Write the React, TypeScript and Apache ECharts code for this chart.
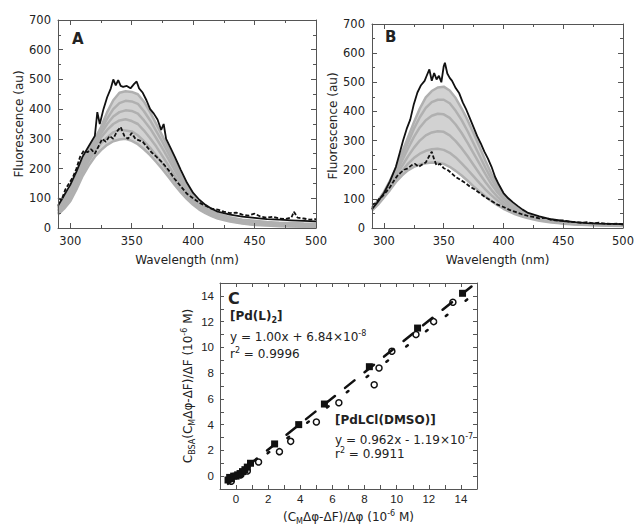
import { useEffect, useRef } from "react";
import * as echarts from "echarts";

// ---------- Panel A & B: shared wavelength grid for the gray titration spectra ----------
const grayWl = [290, 295, 300, 305, 310, 315, 320, 325, 330, 335, 340, 345, 350, 355, 360, 365, 370, 375, 380, 385, 390, 395, 400, 405, 410, 415, 420, 430, 440, 450, 460, 470, 480, 490, 500];

const aGray1 = [45, 65, 90, 130, 175, 210, 240, 262, 280, 292, 298, 300, 293, 282, 265, 245, 222, 198, 172, 145, 120, 97, 78, 62, 50, 40, 32, 22, 15, 10, 8, 6, 5, 4, 3];
const aGray2 = [50, 72, 100, 142, 188, 225, 258, 285, 305, 322, 330, 328, 325, 312, 292, 270, 244, 216, 188, 158, 130, 105, 84, 66, 53, 43, 35, 24, 17, 12, 10, 8, 7, 6, 5];
const aGray3 = [55, 80, 108, 150, 198, 238, 272, 305, 330, 350, 362, 366, 360, 350, 328, 302, 274, 242, 210, 177, 145, 116, 92, 72, 58, 47, 38, 27, 19, 14, 12, 10, 9, 8, 7];
const aGray4 = [60, 86, 115, 158, 205, 245, 282, 318, 350, 375, 390, 396, 394, 385, 362, 335, 302, 268, 232, 195, 158, 125, 98, 77, 62, 50, 41, 30, 22, 17, 14, 12, 11, 10, 9];
const aGray5 = [65, 93, 122, 166, 215, 253, 290, 330, 368, 400, 420, 428, 426, 418, 393, 362, 326, 290, 250, 210, 170, 133, 104, 81, 66, 54, 44, 33, 25, 20, 17, 15, 14, 12, 11];
const aGray6 = [70, 100, 130, 175, 225, 262, 300, 340, 390, 430, 455, 460, 458, 450, 425, 390, 350, 310, 268, 225, 180, 140, 108, 85, 70, 58, 48, 36, 28, 24, 20, 18, 17, 15, 14];

const aSolidWl = [290, 295, 300, 305, 310, 315, 320, 322, 324, 327, 330, 333, 335, 337, 339, 341, 343, 346, 349, 352, 354, 356, 359, 362, 365, 368, 371, 374, 376, 378, 381, 385, 390, 395, 400, 405, 410, 415, 420, 430, 440, 450, 460, 470, 480, 490, 500];
const aSolidVal = [75, 110, 145, 190, 240, 275, 310, 390, 350, 400, 440, 470, 500, 480, 498, 478, 475, 478, 470, 485, 493, 470, 455, 430, 400, 385, 365, 330, 350, 300, 275, 240, 195, 152, 118, 95, 78, 65, 55, 45, 38, 34, 30, 28, 26, 24, 22];

const aDashWl = [290, 293, 296, 299, 302, 305, 308, 311, 314, 317, 320, 323, 326, 329, 332, 335, 338, 341, 344, 347, 350, 353, 356, 359, 362, 366, 370, 375, 380, 385, 390, 395, 400, 405, 410, 415, 420, 425, 430, 435, 440, 445, 450, 455, 460, 465, 470, 475, 480, 482, 485, 490, 495, 500];
const aDashVal = [100, 95, 130, 150, 170, 200, 240, 260, 255, 265, 250, 275, 300, 290, 310, 300, 325, 340, 310, 300, 320, 300, 295, 290, 275, 255, 240, 220, 195, 165, 140, 115, 100, 85, 75, 65, 62, 55, 50, 52, 45, 42, 48, 38, 35, 38, 32, 30, 35, 55, 35, 32, 28, 30];

const bGray1 = [60, 80, 105, 130, 158, 180, 198, 210, 218, 222, 225, 224, 220, 210, 196, 180, 162, 143, 125, 108, 92, 78, 66, 56, 47, 40, 34, 25, 19, 15, 12, 10, 9, 8, 7];
const bGray2 = [62, 83, 108, 135, 166, 195, 220, 240, 255, 265, 270, 272, 268, 258, 242, 222, 200, 177, 154, 132, 112, 94, 78, 65, 54, 45, 38, 28, 21, 16, 13, 11, 10, 9, 8];
const bGray3 = [64, 86, 112, 142, 176, 212, 245, 275, 300, 318, 328, 332, 330, 318, 298, 274, 246, 216, 186, 157, 130, 107, 88, 72, 59, 49, 41, 30, 22, 17, 14, 12, 11, 10, 9];
const bGray4 = [66, 89, 116, 150, 188, 230, 272, 312, 345, 370, 385, 392, 390, 378, 355, 326, 292, 256, 220, 184, 150, 122, 99, 80, 65, 53, 44, 32, 24, 18, 15, 13, 12, 11, 10];
const bGray5 = [68, 92, 120, 156, 198, 245, 292, 340, 380, 412, 432, 440, 440, 428, 402, 370, 332, 290, 248, 206, 167, 134, 107, 86, 69, 56, 46, 33, 25, 19, 16, 14, 13, 12, 11];
const bGray6 = [70, 94, 124, 162, 206, 258, 310, 362, 410, 448, 470, 482, 485, 472, 446, 410, 370, 325, 278, 230, 185, 146, 115, 91, 73, 59, 48, 35, 26, 20, 17, 15, 14, 13, 12];

const bSolidWl = [290, 295, 300, 305, 310, 313, 316, 319, 322, 325, 328, 331, 334, 336, 338, 340, 342, 344, 346, 348, 350, 351, 353, 355, 357, 360, 363, 366, 369, 372, 375, 378, 381, 384, 387, 390, 393, 396, 400, 404, 408, 412, 416, 420, 430, 440, 450, 460, 470, 480, 490, 500];
const bSolidVal = [65, 90, 120, 160, 210, 255, 300, 340, 372, 425, 465, 490, 505, 525, 544, 505, 532, 510, 522, 500, 555, 567, 530, 515, 505, 480, 462, 430, 405, 375, 345, 315, 290, 262, 238, 210, 175, 150, 120, 102, 88, 75, 63, 53, 40, 30, 24, 20, 17, 15, 14, 13];

const bDashWl = [290, 293, 296, 299, 302, 305, 308, 311, 314, 317, 320, 323, 326, 329, 332, 335, 338, 340, 342, 344, 347, 350, 353, 356, 360, 364, 368, 372, 376, 380, 385, 390, 395, 400, 405, 410, 415, 420, 425, 430, 435, 440, 445, 450, 455, 460, 465, 470, 475, 480, 485, 490, 495, 500];
const bDashVal = [80, 85, 100, 110, 125, 140, 160, 178, 190, 200, 205, 215, 220, 210, 218, 225, 248, 262, 235, 215, 220, 205, 200, 190, 175, 165, 155, 142, 132, 120, 105, 93, 80, 72, 62, 55, 48, 42, 38, 33, 35, 28, 25, 26, 22, 20, 18, 20, 16, 18, 15, 14, 15, 12];

// ---------- Panel C ----------
const cSquareX = [-0.5, -0.4, -0.3, -0.15, 0, 0.1, 0.25, 0.4, 0.55, 0.7, 0.9, 2.4, 3.9, 5.5, 8.3, 11.3, 14.1];
const cSquareY = [-0.3, -0.1, -0.2, 0, 0, 0.1, 0.2, 0.35, 0.5, 0.7, 1.0, 2.5, 4.0, 5.6, 8.5, 11.5, 14.2];
const cCircleX = [-0.3, 0.3, 0.7, 1.4, 2.7, 3.4, 5.0, 6.4, 8.6, 8.9, 9.7, 11.2, 12.3, 13.5];
const cCircleY = [-0.4, 0.1, 0.4, 1.1, 1.9, 2.7, 4.2, 5.7, 7.1, 8.4, 9.7, 11.0, 12.0, 13.5];
const fitSlope = [1.0, 0.962];
const fitIntercept = [0.0684, -0.119];
const fitXRange = [-0.5, 15];

const FONT = "DejaVu Sans";
const TXT = "#222";
const AXC = "#555";

const pairs = (xs: number[], ys: number[]) => xs.map((x, i) => [x, ys[i]]);

const richStyles = (size: number, bold = false) => ({
  n: { fontFamily: FONT, fontSize: size, fontWeight: bold ? "bold" : "normal", color: TXT, fill: TXT, lineHeight: 16, verticalAlign: "middle" },
  s: { fontFamily: FONT, fontSize: 8, fontWeight: bold ? "bold" : "normal", color: TXT, fill: TXT, lineHeight: 8, verticalAlign: "bottom" },
  p: { fontFamily: FONT, fontSize: 8, fontWeight: bold ? "bold" : "normal", color: TXT, fill: TXT, lineHeight: 8, verticalAlign: "top" },
});

function mkAxis(kind: "x" | "y", gi: number, pos: string, min: number, max: number, opt: any) {
  const labelled = pos === "bottom" || pos === "left";
  const a: any = {
    type: "value",
    gridIndex: gi,
    position: pos,
    min,
    max,
    z: 10,
    axisLine: { show: true, onZero: false, lineStyle: { color: AXC, width: 1 } },
    axisTick: { show: true, inside: true, length: opt.tickLen ?? 5, lineStyle: { color: AXC } },
    minorTick: { show: !!opt.minor, splitNumber: 2, length: 3, lineStyle: { color: AXC } },
    splitLine: { show: false },
    minorSplitLine: { show: false },
    axisLabel: labelled
      ? { show: true, color: TXT, fontFamily: opt.labelFont ?? FONT, fontSize: opt.labelSize ?? 11.5, margin: opt.margin ?? 7, showMinLabel: opt.showMin ?? true, showMaxLabel: true, formatter: opt.formatter }
      : { show: false },
  };
  if (opt.interval !== undefined) a.interval = opt.interval;
  if (opt.splitNumber !== undefined) a.splitNumber = opt.splitNumber;
  if (labelled && opt.name) {
    a.name = opt.name;
    a.nameLocation = "middle";
    a.nameGap = opt.nameGap;
    a.nameTextStyle = { color: TXT, fontFamily: FONT, fontSize: 12, rich: richStyles(12) };
  }
  return a;
}

export default function App() {
  const ref = useRef<HTMLDivElement>(null);
  useEffect(() => {
    document.body.style.margin = "0";
    if (!ref.current) return;
    const chart = echarts.init(ref.current, undefined, { renderer: "svg" });

    const grayLine = (name: string, xi: number, yi: number, vals: number[]) => ({
      name, type: "line", xAxisIndex: xi, yAxisIndex: yi, data: pairs(grayWl, vals), showSymbol: false, silent: true,
      lineStyle: { color: "#b0b0b0", width: 2.5 },
    });
    const bandArea = (name: string, xi: number, yi: number, vals: number[], color: string) => ({
      name, type: "line", xAxisIndex: xi, yAxisIndex: yi, data: pairs(grayWl, vals), showSymbol: false, silent: true,
      lineStyle: { width: 0, opacity: 0 }, areaStyle: { color, opacity: 1 },
    });

    const spectra = (xi: number, yi: number, g: number[][], sw: number[], sv: number[], dw: number[], dv: number[]) => [
      bandArea("bandTop" + xi, xi, yi, g[5], "#d2d2d2"),
      bandArea("bandBottom" + xi, xi, yi, g[0], "#ffffff"),
      ...g.map((v, i) => grayLine("g" + xi + "_" + i, xi, yi, v)),
      { name: "dash" + xi, type: "line", xAxisIndex: xi, yAxisIndex: yi, data: pairs(dw, dv), showSymbol: false, silent: true, lineStyle: { color: "#111", width: 1.8, type: [4, 2] } },
      { name: "solid" + xi, type: "line", xAxisIndex: xi, yAxisIndex: yi, data: pairs(sw, sv), showSymbol: false, silent: true, lineStyle: { color: "#111", width: 1.8 } },
    ];

    const fitLine = (k: number, dash: number[]) => ({
      name: "fit" + k, type: "line", xAxisIndex: 4, yAxisIndex: 4, showSymbol: false, silent: true,
      data: fitXRange.map((x) => [x, fitSlope[k] * x + fitIntercept[k]]),
      lineStyle: { color: "#111", width: 2.5, type: dash, cap: "round" },
    });

    const evenOnly = (v: number) => (Math.round(v) % 2 === 0 ? String(v) : "");

    const option: any = {
      animation: false,
      backgroundColor: "#fff",
      grid: [
        { left: 58, top: 20, width: 258, height: 208 },
        { left: 372, top: 24, width: 254, height: 204 },
        { left: 220, top: 283, width: 257, height: 206 },
      ],
      xAxis: [
        mkAxis("x", 0, "bottom", 290, 500, { minor: true, showMin: false, name: "Wavelength (nm)", nameGap: 26 }),
        mkAxis("x", 0, "top", 290, 500, { minor: true }),
        mkAxis("x", 1, "bottom", 290, 500, { minor: true, showMin: false, name: "Wavelength (nm)", nameGap: 26 }),
        mkAxis("x", 1, "top", 290, 500, { minor: true }),
        mkAxis("x", 2, "bottom", -1, 15, { interval: 1, tickLen: 4, formatter: evenOnly, labelFont: "Liberation Sans", labelSize: 11.5, margin: 4, name: "{n|(C}{s|M}{n|Δφ-ΔF)/Δφ (10}{p|-6}{n| M)}", nameGap: 20 }),
        mkAxis("x", 2, "top", -1, 15, { interval: 1, tickLen: 4 }),
      ],
      yAxis: [
        mkAxis("y", 0, "left", 0, 700, { interval: 100, minor: true, name: "Fluorescence (au)", nameGap: 33 }),
        mkAxis("y", 0, "right", 0, 700, { interval: 100, minor: true }),
        mkAxis("y", 1, "left", 0, 700, { interval: 100, minor: true, name: "Fluorescence (au)", nameGap: 32 }),
        mkAxis("y", 1, "right", 0, 700, { interval: 100, minor: true }),
        mkAxis("y", 2, "left", -1, 15, { interval: 1, tickLen: 4, formatter: evenOnly, labelFont: "Liberation Sans", labelSize: 11.5, margin: 6, name: "{n|C}{s|BSA}{n|(C}{s|M}{n|Δφ-ΔF)/ΔF (10}{p|-6}{n| M)}", nameGap: 24 }),
        mkAxis("y", 2, "right", -1, 15, { interval: 1, tickLen: 4 }),
      ],
      series: [
        ...spectra(0, 0, [aGray1, aGray2, aGray3, aGray4, aGray5, aGray6], aSolidWl, aSolidVal, aDashWl, aDashVal),
        ...spectra(2, 2, [bGray1, bGray2, bGray3, bGray4, bGray5, bGray6], bSolidWl, bSolidVal, bDashWl, bDashVal),
        fitLine(0, [12, 13]),
        fitLine(1, [2, 23]),
        {
          name: "[PdLCl(DMSO)]", type: "scatter", xAxisIndex: 4, yAxisIndex: 4, data: pairs(cCircleX, cCircleY),
          symbol: "circle", symbolSize: 6, itemStyle: { color: "#fff", borderColor: "#111", borderWidth: 1.5, opacity: 1 }, silent: true,
        },
        {
          name: "[Pd(L)2]", type: "scatter", xAxisIndex: 4, yAxisIndex: 4, data: pairs(cSquareX, cSquareY),
          symbol: "rect", symbolSize: 7, itemStyle: { color: "#111", opacity: 1 }, silent: true,
        },
      ],
      graphic: [
        { type: "text", left: 72, top: 31, style: { text: "A", font: `bold 15px "${FONT}"`, fill: TXT } },
        { type: "text", left: 385, top: 29, style: { text: "B", font: `bold 15px "${FONT}"`, fill: TXT } },
        { type: "text", left: 228, top: 290, style: { text: "C", font: `bold 16px "${FONT}"`, fill: TXT } },
        { type: "text", left: 230, top: 310, style: { text: "{n|[Pd(L)}{s|2}{n|]}", rich: richStyles(12, true), fill: TXT } },
        { type: "text", left: 230, top: 329, style: { text: "{n|y = 1.00x + 6.84×10}{p|-8}", rich: richStyles(12), fill: TXT } },
        { type: "text", left: 230, top: 346, style: { text: "{n|r}{p|2}{n| = 0.9996}", rich: richStyles(12), fill: TXT } },
        { type: "text", left: 335, top: 414, style: { text: "{n|[PdLCl(DMSO)]}", rich: richStyles(12, true), fill: TXT } },
        { type: "text", left: 335, top: 432, style: { text: "{n|y = 0.962x - 1.19×10}{p|-7}", rich: richStyles(12), fill: TXT } },
        { type: "text", left: 335, top: 446, style: { text: "{n|r}{p|2}{n| = 0.9911}", rich: richStyles(12), fill: TXT } },
      ],
    };
    chart.setOption(option);
    return () => chart.dispose();
  }, []);
  return <div ref={ref} style={{ width: 637, height: 528 }} />;
}
